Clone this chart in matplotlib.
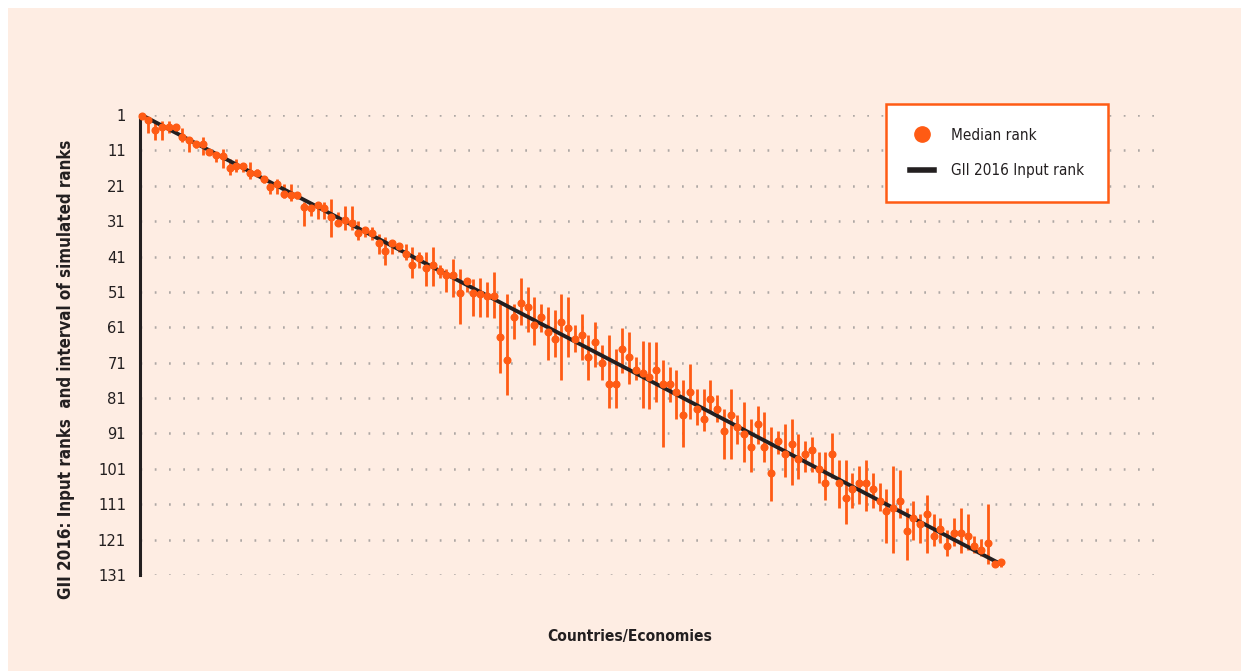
import matplotlib
matplotlib.use('Agg')
import matplotlib.pyplot as plt
from matplotlib.lines import Line2D
from matplotlib.patches import Rectangle
import numpy as np

plt.rcParams['font.family'] = ['DejaVu Sans']
plt.rcParams['font.stretch'] = 'condensed'

# GII 2016 input rank of each economy (x order) and simulated ranks
input_rank = list(range(1, 129))

median_rank = [
    1.2, 2.4, 5.2, 4.3, 4.5, 4.3, 7.3, 8.1, 9.2, 9.2,
    11.4, 12.3, 12.5, 16.1, 15.3, 15.3, 17.3, 17.3, 19.1, 21.3,
    20.5, 23.4, 23.5, 23.5, 27.1, 27.3, 26.4, 27.3, 29.7, 31.6,
    30.7, 31.6, 34.3, 33.4, 34.4, 37.2, 39.5, 37.2, 38.1, 40.4,
    43.3, 41.5, 44.3, 43.3, 45.2, 46.2, 46.2, 51.3, 48.0, 51.3,
    51.5, 52.2, 52.2, 63.7, 70.3, 58.1, 54.1, 55.2, 60.4, 58.1,
    62.3, 64.2, 59.5, 61.3, 64.2, 63.2, 69.3, 65.1, 71.2, 76.9,
    76.9, 67.0, 69.3, 73.1, 74.0, 75.1, 73.2, 76.9, 76.9, 79.3,
    85.9, 79.3, 84.0, 86.8, 81.2, 84.0, 90.2, 85.9, 89.2, 91.1,
    94.9, 88.3, 94.9, 102.1, 93.0, 96.8, 93.9, 98.2, 96.8, 95.8,
    101.1, 105.0, 96.8, 105.0, 109.1, 106.8, 105.0, 105.0, 106.8, 110.1,
    112.9, 112.0, 110.1, 118.6, 114.8, 116.7, 113.8, 120.0, 118.1, 122.9,
    119.1, 119.1, 120.0, 122.9, 124.0, 122.0, 128.0, 127.3,
]

low_rank = [
    1.0, 1.9, 2.7, 2.6, 2.6, 3.5, 4.6, 7.4, 8.5, 7.3,
    10.9, 11.7, 10.7, 13.5, 13.5, 14.7, 14.4, 16.3, 18.2, 20.5,
    19.1, 20.5, 20.6, 22.9, 25.5, 25.7, 25.7, 25.7, 24.8, 28.5,
    26.6, 26.6, 30.9, 32.7, 32.7, 34.6, 35.6, 36.5, 37.4, 37.4,
    38.4, 39.8, 39.8, 38.4, 43.5, 44.5, 41.7, 44.5, 47.3, 47.3,
    47.2, 48.1, 45.4, 54.3, 51.5, 54.3, 47.2, 49.6, 52.4, 54.3,
    55.2, 56.2, 51.5, 52.4, 60.4, 57.1, 63.2, 59.5, 66.0, 63.2,
    67.0, 61.3, 62.3, 69.3, 65.0, 65.2, 65.2, 70.3, 72.2, 73.2,
    76.0, 71.3, 78.4, 78.4, 76.0, 80.2, 84.0, 78.4, 85.9, 82.1,
    86.8, 83.1, 85.0, 89.2, 90.2, 88.3, 86.8, 91.1, 93.0, 92.0,
    96.2, 96.2, 91.0, 98.4, 98.4, 102.1, 100.2, 98.4, 102.1, 105.0,
    106.8, 100.2, 101.2, 112.0, 110.1, 113.8, 108.5, 113.8, 114.8, 118.4,
    114.8, 112.0, 113.8, 120.0, 120.9, 111.0, 127.5, 126.4,
]

high_rank = [
    1.6, 6.2, 8.1, 8.1, 6.2, 5.7, 8.5, 11.4, 10.2, 12.3,
    12.1, 14.4, 16.1, 18.0, 17.0, 17.0, 19.1, 18.2, 20.1, 23.4,
    23.4, 24.4, 25.3, 24.6, 32.3, 29.5, 30.4, 30.4, 35.4, 32.3,
    33.5, 33.5, 36.3, 35.4, 36.3, 40.2, 43.3, 40.2, 39.8, 42.1,
    47.1, 44.2, 49.2, 49.2, 47.1, 51.1, 52.3, 60.2, 51.0, 57.9,
    58.0, 58.0, 58.5, 74.0, 80.2, 64.2, 60.4, 62.3, 66.0, 62.3,
    70.3, 69.3, 75.9, 69.3, 67.9, 70.3, 75.9, 72.2, 75.9, 83.9,
    83.9, 74.0, 76.9, 75.9, 83.9, 84.0, 82.1, 94.9, 82.1, 86.8,
    94.9, 86.8, 88.7, 90.2, 85.0, 87.8, 98.2, 98.2, 93.9, 99.1,
    101.9, 93.9, 99.1, 110.0, 96.8, 103.4, 105.7, 103.8, 101.9, 101.9,
    105.0, 109.9, 103.7, 112.0, 116.7, 112.0, 111.0, 112.9, 112.0, 112.9,
    121.9, 124.8, 114.8, 126.8, 121.0, 121.9, 124.8, 122.9, 121.9, 125.7,
    122.9, 124.8, 123.8, 124.8, 125.7, 127.8, 128.8, 128.8,
]

y_ticks = [1, 11, 21, 31, 41, 51, 61, 71, 81, 91, 101, 111, 121, 131]

ORANGE = '#FF5B14'
BG = '#FEEDE3'
INK = '#231F20'

fig = plt.figure(figsize=(12.49, 6.71), dpi=100)
fig.patch.set_facecolor('white')
fig.patches.append(Rectangle((8 / 1249, 0), 1 - 16 / 1249, 1 - 8 / 671,
                             transform=fig.transFigure, facecolor=BG,
                             edgecolor='none', zorder=-10))

ax = fig.add_axes([140 / 1249, 1 - 575 / 671, (1155 - 140) / 1249, (575 - 115) / 671])
ax.set_facecolor('none')

x = np.array(input_rank)
med = np.array(median_rank)
lo = np.array(low_rank)
hi = np.array(high_rank)

for yt in y_ticks:
    ax.axhline(yt, color='#ADA7A4', lw=1.8, ls=(0, (0.7, 5.0)), zorder=0)

ax.vlines(x, lo, hi, color=ORANGE, lw=2.0, zorder=2)
ax.plot(x, input_rank, color=INK, lw=2.8, zorder=3, solid_capstyle='butt')
ax.plot(x, med, 'o', color=ORANGE, ms=4.8, zorder=4, clip_on=False)

ax.set_xlim(0.75, 150.7)
ax.set_ylim(131, 1)
ax.set_yticks(y_ticks)
ax.set_yticklabels([str(t) for t in y_ticks], fontsize=11.8, color=INK)
ax.tick_params(axis='y', length=0, pad=10)
ax.set_xticks([])
for s in ['top', 'right', 'bottom']:
    ax.spines[s].set_visible(False)
ax.spines['left'].set_color(INK)
ax.spines['left'].set_linewidth(2.2)

fig.text(66 / 1249, 1 - 369 / 671, 'GII 2016: Input ranks  and interval of simulated ranks',
         rotation=90, ha='center', va='center', fontsize=12.2, fontweight='bold', color=INK)
fig.text(630 / 1249, 1 - 637 / 671, 'Countries/Economies', ha='center', va='center',
         fontsize=11.2, fontweight='bold', color=INK)

handles = [
    Line2D([], [], marker='o', ls='none', color=ORANGE, ms=11),
    Line2D([], [], color=INK, lw=4),
]
leg = ax.legend(handles, ['Median rank', 'GII 2016 Input rank'],
                loc='upper left', bbox_to_anchor=((886 - 140) / 1015, 1 + 11 / 460),
                frameon=True, fancybox=False, fontsize=11, handlelength=1.6,
                borderpad=1.55, labelspacing=1.35, handletextpad=1.1,
                borderaxespad=0)
leg.get_frame().set_edgecolor(ORANGE)
leg.get_frame().set_linewidth(1.8)
leg.get_frame().set_facecolor('white')
leg.get_frame().set_alpha(1)
for t in leg.get_texts():
    t.set_color(INK)

fig.savefig('out.png', dpi=100, facecolor=fig.get_facecolor())
